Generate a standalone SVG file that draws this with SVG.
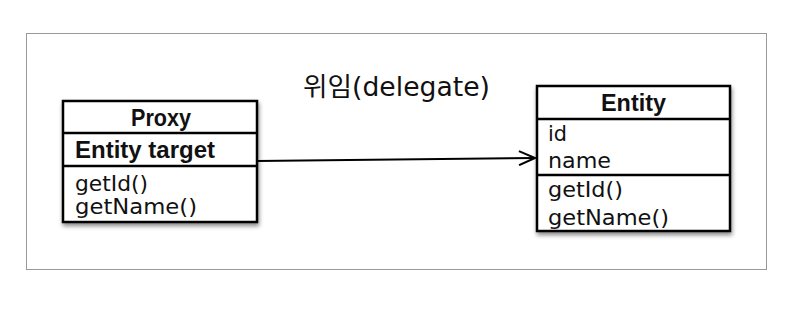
<svg xmlns="http://www.w3.org/2000/svg" width="810" height="336" viewBox="0 0 810 336">
<defs>
<style>
.t{font-family:"DejaVu Sans","Noto Sans CJK KR",sans-serif;fill:#111;}
.h{font-family:"Liberation Sans",Arial,sans-serif;font-size:24px;font-weight:bold;}
.m{font-size:22px;}
.b{fill:#fff;stroke:#000;stroke-width:2.5;}
.d{stroke:#000;stroke-width:2.5;}
</style>
<filter id="sh" x="-10%" y="-10%" width="130%" height="130%">
<feDropShadow dx="1" dy="3" stdDeviation="2" flood-color="#000" flood-opacity="0.45"/>
</filter>
<marker id="arr" markerWidth="20" markerHeight="16" refX="18" refY="8" orient="auto" markerUnits="userSpaceOnUse">
<path d="M2,1 L18,8 L2,15" fill="none" stroke="#000" stroke-width="2"/>
</marker>
</defs>
<rect width="810" height="336" fill="#fff"/>
<rect x="26.5" y="33.5" width="740" height="236" fill="none" stroke="#999" stroke-width="1"/>
<text class="t" x="303" y="96" font-size="26" textLength="187" lengthAdjust="spacingAndGlyphs">위임(delegate)</text>
<g id="connectors">
<line x1="257" y1="161" x2="535" y2="158" stroke="#000" stroke-width="2" marker-end="url(#arr)"/>
</g>
<g id="proxy">
<rect class="b" x="63" y="101" width="194" height="121" filter="url(#sh)"/>
<line class="d" x1="63" y1="133" x2="257" y2="133"/>
<line class="d" x1="63" y1="166" x2="257" y2="166"/>
<text class="t h" x="131" y="126" textLength="60" lengthAdjust="spacingAndGlyphs">Proxy</text>
<text class="t h" x="75" y="158" textLength="140" lengthAdjust="spacingAndGlyphs">Entity target</text>
<text class="t m" x="75" y="191" textLength="73" lengthAdjust="spacingAndGlyphs">getId()</text>
<text class="t m" x="75" y="214" textLength="122" lengthAdjust="spacingAndGlyphs">getName()</text>
</g>
<g id="entity">
<rect class="b" x="537" y="86" width="193" height="145" filter="url(#sh)"/>
<line class="d" x1="537" y1="119" x2="730" y2="119"/>
<line class="d" x1="537" y1="175" x2="730" y2="175"/>
<text class="t h" x="601" y="111" textLength="65" lengthAdjust="spacingAndGlyphs">Entity</text>
<text class="t m" x="548" y="141" textLength="19" lengthAdjust="spacingAndGlyphs">id</text>
<text class="t m" x="548" y="168" textLength="63" lengthAdjust="spacingAndGlyphs">name</text>
<text class="t m" x="548" y="197" textLength="75" lengthAdjust="spacingAndGlyphs">getId()</text>
<text class="t m" x="548" y="225" textLength="121" lengthAdjust="spacingAndGlyphs">getName()</text>
</g>
</svg>
